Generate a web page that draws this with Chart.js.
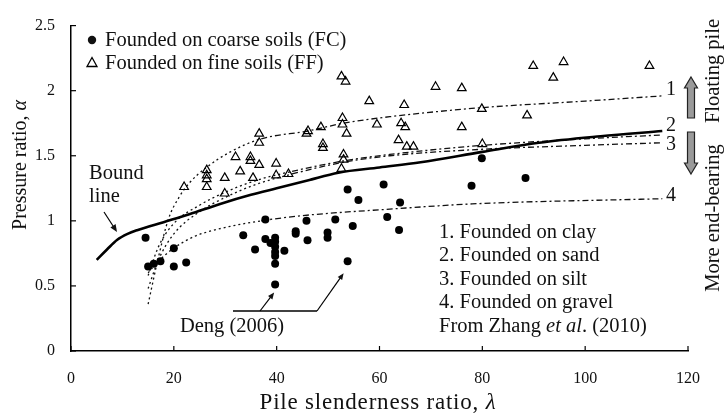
<!DOCTYPE html>
<html lang="en">
<head>
<meta charset="UTF-8">
<title>Pressure ratio vs pile slenderness ratio</title>
<script src="https://cdn.jsdelivr.net/npm/chart.js"></script>
<style>
  html, body { margin: 0; padding: 0; background: #fff; }
  #wrap { width: 725px; height: 417px; }
</style>
</head>
<body>
<div id="wrap"><canvas id="chart" width="725" height="417"></canvas></div>
<script>
  // coarse soils (FC) - filled dots
  const fcLambda = [14.5, 15.0, 16.1, 17.4, 20.0, 20.0, 22.4, 33.5, 35.8, 37.8, 37.8, 38.8, 39.7, 39.7, 39.7, 39.7, 39.7, 39.7, 39.7, 41.5, 43.7, 43.7, 45.8, 46.0, 49.9, 49.9, 51.4, 53.8, 53.8, 54.8, 55.9, 60.8, 61.5, 64.0, 63.8, 77.9, 79.9, 88.4];
  const fcAlpha = [0.87, 0.65, 0.67, 0.69, 0.79, 0.65, 0.68, 0.89, 0.78, 1.01, 0.86, 0.83, 0.87, 0.84, 0.80, 0.76, 0.73, 0.67, 0.51, 0.77, 0.92, 0.90, 1.00, 0.85, 0.91, 0.87, 1.01, 1.24, 0.69, 0.96, 1.16, 1.28, 1.03, 1.14, 0.93, 1.27, 1.48, 1.33];
  // fine soils (FF) - open triangles
  const ffLambda = [22.0, 26.4, 26.4, 26.4, 26.4, 29.9, 29.9, 32.0, 32.9, 34.9, 34.9, 35.4, 36.6, 36.6, 36.6, 39.9, 39.9, 42.3, 45.8, 46.1, 48.6, 49.0, 49.0, 52.8, 52.8, 53.6, 53.0, 53.0, 52.6, 52.6, 53.4, 58.0, 59.5, 63.7, 64.2, 65.0, 64.8, 65.3, 66.6, 70.9, 76.0, 76.0, 79.9, 80.0, 88.7, 89.9, 93.8, 95.8, 112.5];
  const ffAlpha = [1.26, 1.39, 1.35, 1.32, 1.26, 1.33, 1.21, 1.49, 1.38, 1.49, 1.46, 1.33, 1.43, 1.67, 1.60, 1.44, 1.35, 1.36, 1.67, 1.69, 1.72, 1.59, 1.56, 1.79, 1.74, 1.67, 1.51, 1.47, 1.40, 2.11, 2.07, 1.92, 1.74, 1.62, 1.75, 1.72, 1.89, 1.57, 1.57, 2.03, 2.02, 1.72, 1.86, 1.59, 1.81, 2.19, 2.10, 2.22, 2.19];
  // bound line
  const boundLambda = [5, 7, 9, 11, 13, 18, 23, 29, 35, 40, 46, 52, 60, 68, 80, 91, 103, 115];
  const boundAlpha = [0.70, 0.78, 0.855, 0.90, 0.93, 0.99, 1.05, 1.13, 1.20, 1.25, 1.31, 1.37, 1.41, 1.45, 1.53, 1.60, 1.65, 1.69];
  // Zhang et al. (2010) curves
  const clayLambda = [15, 17, 19, 21, 23, 26, 31, 37, 46, 53, 62, 80, 100, 115];
  const clayAlpha = [0.36, 0.72, 1.02, 1.18, 1.29, 1.40, 1.53, 1.63, 1.69, 1.75, 1.80, 1.87, 1.92, 1.96];
  const sandLambda = [15, 17, 20, 25, 30, 36, 43, 53, 62, 80, 100, 115];
  const sandAlpha = [0.58, 0.80, 0.98, 1.12, 1.22, 1.31, 1.38, 1.46, 1.51, 1.58, 1.63, 1.66];
  const siltLambda = [15, 17, 20, 25, 30, 36, 43, 53, 62, 80, 100, 115];
  const siltAlpha = [0.48, 0.70, 0.90, 1.07, 1.18, 1.28, 1.36, 1.45, 1.50, 1.55, 1.58, 1.60];
  const gravelLambda = [15, 17, 20, 24, 29, 37, 45, 62, 78, 115];
  const gravelAlpha = [0.60, 0.69, 0.79, 0.88, 0.94, 1.00, 1.04, 1.09, 1.13, 1.17];

  const xTicks = [0, 20, 40, 60, 80, 100, 120];
  const yTicks = [0, 0.5, 1, 1.5, 2, 2.5];

  const serif = '"Liberation Serif", "Times New Roman", serif';
  const pts = (xs, ys) => xs.map((x, i) => ({ x: x, y: ys[i] }));

  function curve(xs, ys, dotUntil) {
    return {
      data: pts(xs, ys),
      showLine: true,
      borderColor: '#111',
      borderWidth: 1.3,
      pointRadius: 0,
      cubicInterpolationMode: 'monotone',
      segment: {
        borderDash: c => c.p0.parsed.x < dotUntil ? [2, 3] : [6, 3, 2, 3]
      }
    };
  }

  function arrow(ctx, x1, y1, x2, y2, size) {
    const a = Math.atan2(y2 - y1, x2 - x1);
    ctx.beginPath();
    ctx.moveTo(x1, y1);
    ctx.lineTo(x2 - Math.cos(a) * size * 0.6, y2 - Math.sin(a) * size * 0.6);
    ctx.stroke();
    ctx.beginPath();
    ctx.moveTo(x2, y2);
    ctx.lineTo(x2 - size * Math.cos(a - 0.4), y2 - size * Math.sin(a - 0.4));
    ctx.lineTo(x2 - size * Math.cos(a + 0.4), y2 - size * Math.sin(a + 0.4));
    ctx.closePath();
    ctx.fill();
  }

  // draws text made of runs with different fonts
  function runs(ctx, parts, x, y, align) {
    let w = 0;
    parts.forEach(p => { ctx.font = p.f; w += ctx.measureText(p.t).width; });
    let cx = align === 'center' ? x - w / 2 : x;
    ctx.textAlign = 'left';
    parts.forEach(p => { ctx.font = p.f; ctx.fillText(p.t, cx, y); cx += ctx.measureText(p.t).width; });
  }

  function blockArrow(ctx, x, yTip, yEnd) {
    const dir = yEnd > yTip ? 1 : -1;
    const headLen = 11;
    ctx.beginPath();
    ctx.moveTo(x, yTip);
    ctx.lineTo(x + 6.5, yTip + dir * headLen);
    ctx.lineTo(x + 3.5, yTip + dir * headLen);
    ctx.lineTo(x + 3.5, yEnd);
    ctx.lineTo(x - 3.5, yEnd);
    ctx.lineTo(x - 3.5, yTip + dir * headLen);
    ctx.lineTo(x - 6.5, yTip + dir * headLen);
    ctx.closePath();
    ctx.fillStyle = '#9a9a9a';
    ctx.fill();
    ctx.strokeStyle = '#222';
    ctx.lineWidth = 1.2;
    ctx.stroke();
  }

  const decor = {
    id: 'decor',
    afterDraw(chart) {
      const ctx = chart.ctx;
      const xs = chart.scales.x, ys = chart.scales.y;
      const area = chart.chartArea;
      const f = px => px + 'px ' + serif;
      ctx.save();
      ctx.strokeStyle = '#000';
      ctx.fillStyle = '#000';
      ctx.lineWidth = 1.2;
      // inward tick marks
      xTicks.forEach(v => {
        const px = xs.getPixelForValue(v);
        ctx.beginPath(); ctx.moveTo(px, area.bottom); ctx.lineTo(px, area.bottom - 5); ctx.stroke();
      });
      yTicks.forEach(v => {
        const py = ys.getPixelForValue(v);
        ctx.beginPath(); ctx.moveTo(area.left, py); ctx.lineTo(area.left + 5, py); ctx.stroke();
      });

      ctx.fillStyle = '#111';
      ctx.textBaseline = 'middle';
      // axis titles
      ctx.letterSpacing = '0.8px';
      runs(ctx, [{ t: 'Pile slenderness ratio, ', f: f(23) }, { t: 'λ', f: 'italic ' + f(23) }], 378, 403, 'center');
      ctx.letterSpacing = '0px';
      ctx.save();
      ctx.translate(21, 165);
      ctx.rotate(-Math.PI / 2);
      runs(ctx, [{ t: 'Pressure ratio, ', f: f(20) }, { t: 'α', f: 'italic ' + f(20) }], 0, 0, 'center');
      ctx.restore();

      // legend
      ctx.beginPath(); ctx.arc(92, 40, 4.2, 0, Math.PI * 2); ctx.fill();
      ctx.beginPath();
      ctx.moveTo(92, 57.5); ctx.lineTo(97, 66.5); ctx.lineTo(87, 66.5); ctx.closePath();
      ctx.lineWidth = 1.3; ctx.stroke();
      ctx.font = f(20.5);
      ctx.textAlign = 'left';
      ctx.fillText('Founded on coarse soils (FC)', 105, 41);
      ctx.fillText('Founded on fine soils (FF)', 105, 64);

      // curve numbers
      ctx.font = f(20);
      ctx.fillText('1', 666, 90);
      ctx.fillText('2', 666, 126);
      ctx.fillText('3', 666, 145);
      ctx.fillText('4', 666, 196);

      // list of curves
      ctx.font = f(20.5);
      ctx.fillText('1. Founded on clay', 439, 233);
      ctx.fillText('2. Founded on sand', 439, 256);
      ctx.fillText('3. Founded on silt', 439, 280);
      ctx.fillText('4. Founded on gravel', 439, 303);
      runs(ctx, [{ t: 'From Zhang ', f: f(20.5) }, { t: 'et al', f: 'italic ' + f(20.5) }, { t: '. (2010)', f: f(20.5) }], 439, 327, 'left');

      // bound line label
      ctx.font = f(20.5);
      ctx.fillText('Bound', 89, 174);
      ctx.fillText('line', 89, 197);
      ctx.lineWidth = 1.2;
      arrow(ctx, 104, 212, 117, 232, 8);

      // Deng (2006)
      ctx.textAlign = 'center';
      ctx.fillText('Deng (2006)', 232, 327);
      const p1x = xs.getPixelForValue(39.7), p1y = ys.getPixelForValue(0.51);
      const p2x = xs.getPixelForValue(53.8), p2y = ys.getPixelForValue(0.69);
      ctx.lineWidth = 1.6;
      ctx.beginPath(); ctx.moveTo(233, 311); ctx.lineTo(317, 311); ctx.stroke();
      ctx.lineWidth = 1.2;
      arrow(ctx, 260, 311, p1x - 1, p1y + 8, 7);
      arrow(ctx, 317, 311, p2x - 4, p2y + 12, 7);

      // floating / end-bearing arrows
      blockArrow(ctx, 691, 77, 118);
      blockArrow(ctx, 691, 174, 132);
      ctx.fillStyle = '#111';
      ctx.font = f(20.5);
      ctx.textAlign = 'center';
      ctx.save();
      ctx.translate(714, 71);
      ctx.rotate(-Math.PI / 2);
      ctx.fillText('Floating pile', 0, 0);
      ctx.restore();
      ctx.save();
      ctx.translate(714, 218);
      ctx.rotate(-Math.PI / 2);
      ctx.fillText('More end-bearing', 0, 0);
      ctx.restore();
      ctx.restore();
    }
  };

  new Chart(document.getElementById('chart'), {
    type: 'scatter',
    data: {
      datasets: [
        {
          label: 'Founded on coarse soils (FC)',
          data: pts(fcLambda, fcAlpha),
          pointStyle: 'circle',
          pointRadius: 4,
          backgroundColor: '#000',
          borderWidth: 0
        },
        {
          label: 'Founded on fine soils (FF)',
          data: pts(ffLambda, ffAlpha),
          pointStyle: 'triangle',
          pointRadius: 5,
          backgroundColor: 'rgba(0,0,0,0)',
          borderColor: '#000',
          borderWidth: 1.2
        },
        {
          label: 'Bound line',
          data: pts(boundLambda, boundAlpha),
          showLine: true,
          borderColor: '#000',
          borderWidth: 2.6,
          pointRadius: 0,
          cubicInterpolationMode: 'monotone'
        },
        Object.assign({ label: '1. Founded on clay' }, curve(clayLambda, clayAlpha, 35)),
        Object.assign({ label: '2. Founded on sand' }, curve(sandLambda, sandAlpha, 38)),
        Object.assign({ label: '3. Founded on silt' }, curve(siltLambda, siltAlpha, 38)),
        Object.assign({ label: '4. Founded on gravel' }, curve(gravelLambda, gravelAlpha, 33))
      ]
    },
    options: {
      responsive: false,
      animation: false,
      layout: { padding: { top: 16, right: 37, left: 0, bottom: 0 } },
      plugins: {
        legend: { display: false },
        tooltip: { enabled: false }
      },
      scales: {
        x: {
          type: 'linear',
          min: 0,
          max: 120,
          afterFit: s => { s.height = 66; },
          afterBuildTicks: s => { s.ticks = xTicks.map(v => ({ value: v })); },
          grid: { display: false, drawTicks: false },
          border: { display: true, color: '#000', width: 1.5 },
          ticks: { color: '#111', padding: 18, font: { family: serif, size: 16 } }
        },
        y: {
          type: 'linear',
          min: 0,
          max: 2.5,
          afterFit: s => { s.width = 71; },
          afterBuildTicks: s => { s.ticks = yTicks.map(v => ({ value: v })); },
          grid: { display: false, drawTicks: false },
          border: { display: true, color: '#000', width: 1.5 },
          ticks: { color: '#111', padding: 16, font: { family: serif, size: 16 }, callback: v => String(v) }
        }
      }
    },
    plugins: [decor]
  });
</script>
</body>
</html>
